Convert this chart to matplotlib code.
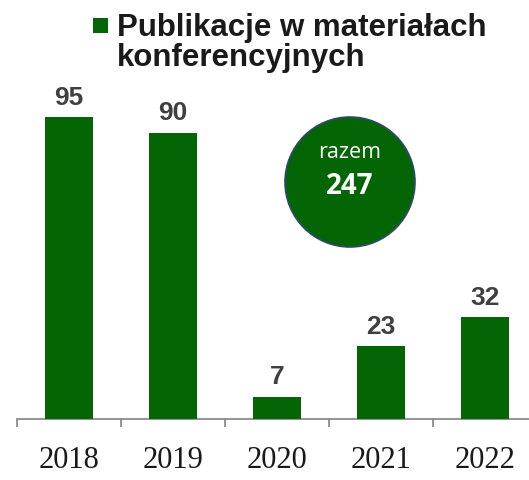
import matplotlib
matplotlib.use("Agg")
import matplotlib.pyplot as plt
from matplotlib.patches import Ellipse, Rectangle

years = ["2018", "2019", "2020", "2021", "2022"]
values = [95, 90, 7, 23, 32]
total_label = "razem"
total_value = "247"
legend_label = "Publikacje w materiałach\nkonferencyjnych"

GREEN = "#036503"
W, H = 529, 481
fig = plt.figure(figsize=(W / 100, H / 100), dpi=100)
fig.patch.set_facecolor("white")

ax = fig.add_axes([17 / W, 61 / H, 520 / W, 381.6 / H])
x = list(range(len(years)))
bars = ax.bar(x, values, width=0.46, color=GREEN, zorder=3)
ax.set_xlim(-0.5, 4.5)
ax.set_ylim(0, 120)
ax.bar_label(bars, labels=[str(v) for v in values], padding=6,
             fontsize=19, fontweight="bold", color="#404040",
             family="Liberation Sans")

for s in ["top", "left", "right"]:
    ax.spines[s].set_visible(False)
ax.spines["bottom"].set_color("#8c8c8c")
ax.spines["bottom"].set_linewidth(1.3)
ax.set_yticks([])
ax.set_xticks(x)
ax.set_xticklabels(years, family="Liberation Serif", fontsize=22, color="#1a1a1a")
ax.tick_params(axis="x", which="major", length=0, pad=19)
ax.set_xticks([i - 0.5 for i in range(len(years) + 1)], minor=True)
ax.tick_params(axis="x", which="minor", length=6, width=1.3, color="#8c8c8c")

# legend-like title
fig.patches.append(Rectangle((93 / W, 1 - 34 / H), 15 / W, 15 / H,
                             transform=fig.transFigure, facecolor=GREEN,
                             edgecolor="none"))
fig.text(117 / W, 1 - 13 / H, legend_label, ha="left", va="top",
         fontsize=22.5, fontweight="bold", family="Liberation Sans",
         color="#1a1a1a", linespacing=1.02)

# total circle
fig.patches.append(Ellipse((350 / W, 1 - 183 / H), 130 / W, 130 / H,
                           transform=fig.transFigure, facecolor=GREEN,
                           edgecolor="#2f4a6e", linewidth=1.2, zorder=5))
fig.text(350 / W, 1 - 152 / H, total_label, ha="center", va="center",
         fontsize=15.5, color="white", family="Open Sans", zorder=6)
fig.text(350 / W, 1 - 186 / H, total_value, ha="center", va="center",
         fontsize=20, fontweight="bold", color="white", family="Open Sans",
         zorder=6)

fig.savefig("out.png", dpi=100)
